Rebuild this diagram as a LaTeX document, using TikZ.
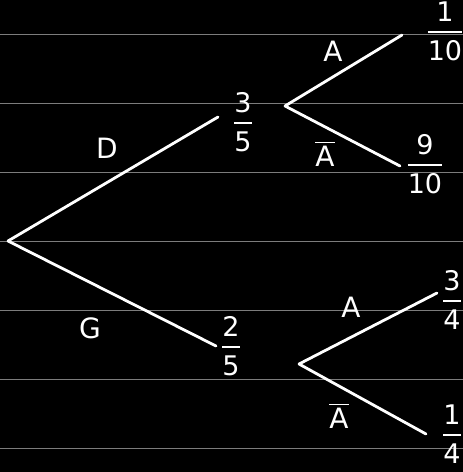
\documentclass[tikz,border=0pt]{standalone}
\usepackage{xcolor}
\usepackage{tikz}
\usepackage{amsmath}
\usepackage{fontspec}
\setmainfont{DejaVu Sans}
\definecolor{ruleline}{HTML}{7C7C7C}
\definecolor{chalk}{HTML}{FFFFFF}
\newcommand{\hfrac}[2]{\ensuremath{\genfrac{}{}{2.4pt}{0}{\mbox{#1}}{\mbox{#2}}}}
\newcommand{\nonev}{\ensuremath{\overline{\mbox{A}}}}
\tikzset{
    branch/.style={draw=chalk,line width=2.8pt,line cap=round},
    prob/.style={text=chalk,font=\fontsize{27}{30}\selectfont,inner sep=0pt},
    event/.style={text=chalk,font=\fontsize{28}{30}\selectfont,inner sep=0pt}
}

\begin{document}
\begin{tikzpicture}[x=1pt,y=-1pt]
    \fill[black] (0,0) rectangle (463,472);
    \useasboundingbox (0,0) rectangle (463,472);
    \foreach \k in {0,...,6}
        \draw[ruleline,line width=1pt] (0,34.5+69*\k) -- (463,34.5+69*\k);
    \coordinate (root) at (8,241);
    \coordinate (dEnd) at (218,117);
    \coordinate (gEnd) at (216,346);
    \coordinate (dSplit) at (285,106);
    \coordinate (gSplit) at (299,364);
    \coordinate (daEnd) at (402,35);
    \coordinate (dnEnd) at (400,166);
    \coordinate (gaEnd) at (437,293);
    \coordinate (gnEnd) at (426,434);
    \draw[branch] (root) -- (dEnd);
    \draw[branch] (root) -- (gEnd);
    \draw[branch] (dSplit) -- (daEnd);
    \draw[branch] (dSplit) -- (dnEnd);
    \draw[branch] (gSplit) -- (gaEnd);
    \draw[branch] (gSplit) -- (gnEnd);
    \node[event] (labD) at (107,148) {D};
    \node[event] (labG) at (90,328) {G};
    \node[event] (labDA) at (333,51) {A};
    \node[event] (labDN) at (325,154) {\nonev};
    \node[event] (labGA) at (351,307) {A};
    \node[event] (labGN) at (339,416) {\nonev};
    \node[prob] (pD) at (243,122) {\hfrac{3}{5}};
    \node[prob] (pG) at (231,346) {\hfrac{2}{5}};
    \node[prob] (pDA) at (445,31) {\hfrac{1}{10}};
    \node[prob] (pDN) at (425,164) {\hfrac{9}{10}};
    \node[prob] (pGA) at (452,300) {\hfrac{3}{4}};
    \node[prob] (pGN) at (452,434) {\hfrac{1}{4}};
\end{tikzpicture}
\end{document}
